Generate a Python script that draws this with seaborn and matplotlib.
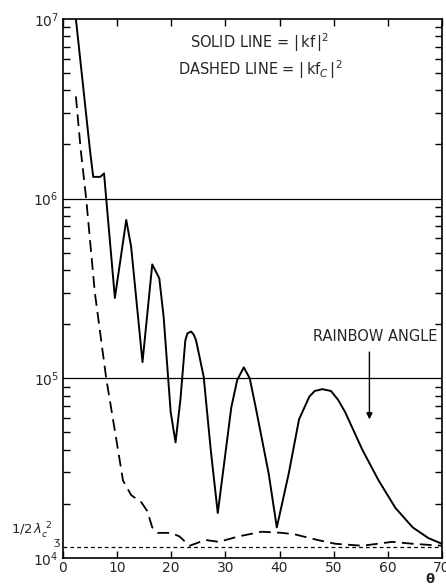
import numpy as np
import pandas as pd
import matplotlib
matplotlib.use("Agg")
import matplotlib.pyplot as plt
import seaborn as sns
from matplotlib.ticker import LogLocator, NullFormatter, FixedLocator

# solid line |kf|^2
theta_solid = [2.4, 5.0, 5.6, 6.9, 7.6, 8.0, 9.6, 11.7, 12.6, 14.7, 16.5, 17.8, 18.6,
               19.9, 20.8, 21.7, 22.6, 23.0, 23.7, 24.2, 24.6, 26.0, 27.3, 28.6, 31.1,
               32.2, 33.4, 34.5, 35.6, 38.0, 39.5, 41.7, 43.6, 45.5, 46.5, 47.9, 49.5,
               50.8, 52.1, 55.3, 58.3, 61.4, 64.6, 67.5, 70.0]
kf_solid = [1.0e7, 1.86e6, 1.32e6, 1.32e6, 1.38e6, 1.0e6, 2.8e5, 7.6e5, 5.4e5, 1.23e5,
            4.3e5, 3.6e5, 2.2e5, 6.5e4, 4.4e4, 7.6e4, 1.62e5, 1.78e5, 1.82e5, 1.74e5,
            1.62e5, 1.02e5, 4.0e4, 1.78e4, 6.9e4, 9.8e4, 1.15e5, 1.0e5, 6.9e4, 2.95e4,
            1.48e4, 2.95e4, 5.9e4, 7.9e4, 8.5e4, 8.7e4, 8.5e4, 7.6e4, 6.5e4, 4.0e4,
            2.7e4, 1.9e4, 1.48e4, 1.29e4, 1.2e4]

# dashed line |kf_C|^2
theta_dashed = [2.4, 3.3, 4.3, 5.9, 8.0, 9.6, 11.1, 12.6, 14.5, 15.6, 16.5, 17.5, 19.9,
                21.5, 23.4, 26.3, 28.8, 32.5, 36.7, 40.5, 43.0, 47.0, 50.3, 55.3, 60.8,
                64.6, 70.0]
kf_dashed = [3.7e6, 1.86e6, 1.0e6, 3.0e5, 1.0e5, 5.1e4, 2.7e4, 2.24e4, 2.04e4, 1.82e4,
             1.48e4, 1.38e4, 1.38e4, 1.32e4, 1.17e4, 1.26e4, 1.23e4, 1.32e4, 1.4e4,
             1.38e4, 1.35e4, 1.26e4, 1.2e4, 1.17e4, 1.23e4, 1.2e4, 1.17e4]

half_lambda_c2 = 1.15e4
grid_levels = [1e5, 1e6]
rainbow_angle = 56.6
x_ticks = [0, 10, 20, 30, 40, 50, 60, 70]
y_decades = [1e4, 1e5, 1e6, 1e7]

solid_df = pd.DataFrame({"theta": theta_solid, "value": kf_solid})
dashed_df = pd.DataFrame({"theta": theta_dashed, "value": kf_dashed})

sns.set_style("ticks")
plt.rcParams["font.family"] = ["DejaVu Sans"]

fig = plt.figure(figsize=(4.46, 5.88), dpi=100)
ax = fig.add_axes([0.141, 0.051, 0.85, 0.917])

sns.lineplot(data=solid_df, x="theta", y="value", sort=False, color="black",
             linewidth=1.4, ax=ax)
sns.lineplot(data=dashed_df, x="theta", y="value", sort=False, color="black",
             linewidth=1.3, linestyle=(0, (6.5, 3.5)), ax=ax)

for lvl in grid_levels:
    ax.axhline(lvl, color="black", linewidth=0.9)
ax.axhline(half_lambda_c2, color="black", linewidth=0.9, linestyle=(0, (3, 2.5)))

ax.set_yscale("log")
ax.set_xlim(0, 70)
ax.set_ylim(1e4, 1e7)

ax.xaxis.set_major_locator(FixedLocator(x_ticks))
ax.set_xticklabels([str(t) for t in x_ticks], fontsize=10)
ax.yaxis.set_major_locator(FixedLocator(y_decades))
ax.set_yticklabels([r"$10^{%d}$" % int(np.log10(v)) for v in y_decades], fontsize=10)
ax.yaxis.set_minor_locator(LogLocator(base=10, subs=np.arange(2, 10)))
ax.yaxis.set_minor_formatter(NullFormatter())
ax.tick_params(which="both", direction="in", top=True, right=True, color="black")
ax.tick_params(which="major", length=5, width=1, pad=2)
ax.tick_params(which="minor", length=5, width=1)
ax.tick_params(axis="y", which="major", length=0, pad=3)
for s in ax.spines.values():
    s.set_linewidth(1.2)
    s.set_color("black")

ax.set_xlabel("")
ax.set_ylabel("")

ax.text(0.52, 0.955, r"SOLID LINE = $|\,$kf$\,|^2$", transform=ax.transAxes,
        ha="center", va="center", fontsize=10.5)
ax.text(0.52, 0.905, r"DASHED LINE = $|\,$kf$_C\,|^2$", transform=ax.transAxes,
        ha="center", va="center", fontsize=10.5)

ax.annotate("", xy=(rainbow_angle, 5.7e4), xytext=(rainbow_angle, 1.45e5),
            arrowprops=dict(arrowstyle="-|>", color="black", linewidth=1.0,
                            mutation_scale=9))
ax.text(rainbow_angle + 12.6, 1.55e5, "RAINBOW ANGLE", ha="right", va="bottom",
        fontsize=10.5)

fig.text(0.025, 0.097, r"$1/2\,\lambda_c^{\ 2}$", ha="left", va="center", fontsize=9.5)
fig.text(0.128, 0.078, "ʒ", ha="center", va="center", fontsize=8)
fig.text(0.963, 0.015, "θ", ha="center", va="center", fontsize=9.5, fontweight="bold")

fig.savefig("out.png", dpi=100)
